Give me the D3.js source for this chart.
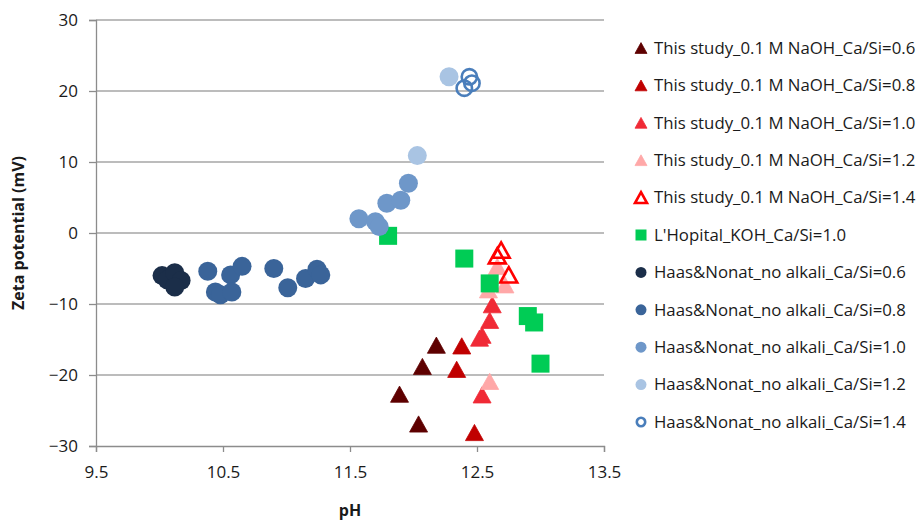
<!DOCTYPE html>
<html>
<head>
<meta charset="utf-8">
<script src="https://cdn.jsdelivr.net/npm/d3@7"></script>
<style>
  body { margin: 0; background: #fff; }
  text { font-family: "Open Sans", "DejaVu Sans", sans-serif; fill: #1a1a1a; }
</style>
</head>
<body>
<div id="chart"></div>
<script>
// pH / zeta potential (mV)
const thisStudy06 = [[12.18, -15.8], [12.07, -18.8], [11.89, -22.7], [12.04, -26.9]];
const thisStudy08 = [[12.38, -15.9], [12.34, -19.2], [12.48, -28.1]];
const thisStudy10 = [[12.62, -10.1], [12.60, -12.3], [12.54, -14.4], [12.52, -14.8], [12.54, -22.8]];
const thisStudy12 = [[12.60, -20.9], [12.66, -4.7], [12.72, -7.3], [12.59, -8.0]];
const thisStudy14 = [[12.69, -2.4], [12.66, -3.2], [12.75, -5.9]];
const lhopital10 = [[11.80, -0.4], [12.40, -3.6], [12.60, -7.1], [12.90, -11.7], [12.95, -12.6], [13.00, -18.4]];
const haas06 = [[10.02, -6.0], [10.06, -6.6], [10.12, -5.6], [10.17, -6.7], [10.12, -7.6]];
const haas08 = [[10.38, -5.4], [10.44, -8.3], [10.48, -8.7], [10.56, -5.9], [10.57, -8.3], [10.65, -4.7],
                [10.90, -5.0], [11.01, -7.7], [11.15, -6.4], [11.24, -5.1], [11.27, -5.9]];
const haas10 = [[11.57, 2.0], [11.70, 1.6], [11.73, 0.9], [11.79, 4.2], [11.90, 4.6], [11.96, 7.0]];
const haas12 = [[12.03, 10.9], [12.28, 22.0]];
const haas14 = [[12.44, 22.0], [12.46, 21.1], [12.40, 20.4]];

const xTicks = [9.5, 10.5, 11.5, 12.5, 13.5];
const yTicks = [-30, -20, -10, 0, 10, 20, 30];

const series = [
  { name: "This study_0.1 M NaOH_Ca/Si=0.6", data: thisStudy06, shape: "tri", color: "#5e0000" },
  { name: "This study_0.1 M NaOH_Ca/Si=0.8", data: thisStudy08, shape: "tri", color: "#c00000" },
  { name: "This study_0.1 M NaOH_Ca/Si=1.0", data: thisStudy10, shape: "tri", color: "#f02a36" },
  { name: "This study_0.1 M NaOH_Ca/Si=1.2", data: thisStudy12, shape: "tri", color: "#ffa8a8" },
  { name: "This study_0.1 M NaOH_Ca/Si=1.4", data: thisStudy14, shape: "triOpen", color: "#ff0000" },
  { name: "L'Hopital_KOH_Ca/Si=1.0", data: lhopital10, shape: "sq", color: "#00cc55" },
  { name: "Haas&Nonat_no alkali_Ca/Si=0.6", data: haas06, shape: "circ", color: "#1b2e49" },
  { name: "Haas&Nonat_no alkali_Ca/Si=0.8", data: haas08, shape: "circ", color: "#3a6499" },
  { name: "Haas&Nonat_no alkali_Ca/Si=1.0", data: haas10, shape: "circ", color: "#6e97c9" },
  { name: "Haas&Nonat_no alkali_Ca/Si=1.2", data: haas12, shape: "circ", color: "#a9c4e3" },
  { name: "Haas&Nonat_no alkali_Ca/Si=1.4", data: haas14, shape: "circOpen", color: "#4a7ebb" }
];

const width = 922, height = 521;
const svg = d3.select("#chart").append("svg")
  .attr("width", width)
  .attr("height", height);

const x = d3.scaleLinear().domain([9.5, 13.5]).range([96, 604]);
const y = d3.scaleLinear().domain([-30, 30]).range([446, 20]);

// Gridlines
svg.append("g")
  .selectAll("line")
  .data(yTicks.filter(d => d > -30))
  .join("line")
  .attr("x1", x(9.5))
  .attr("x2", x(13.5))
  .attr("y1", d => y(d))
  .attr("y2", d => y(d))
  .attr("stroke", "#a6a6a6")
  .attr("stroke-width", 1.3);

// Y axis
const yAxis = svg.append("g")
  .attr("transform", `translate(${x(9.5)},0)`)
  .call(d3.axisLeft(y).tickValues(yTicks).tickSize(7).tickPadding(11));

// X axis
const xAxis = svg.append("g")
  .attr("transform", `translate(0,${y(-30)})`)
  .call(d3.axisBottom(x).tickValues(xTicks).tickFormat(d3.format(".1f")).tickSize(6).tickPadding(14));

[yAxis, xAxis].forEach(g => {
  g.select(".domain").attr("stroke", "#8c8c8c").attr("stroke-width", 1.3);
  g.selectAll(".tick line").attr("stroke", "#8c8c8c").attr("stroke-width", 1.3);
  g.selectAll(".tick text")
    .style("font-family", "'Open Sans', sans-serif")
    .style("font-size", "17px")
    .attr("fill", "#1a1a1a");
});

// Axis titles
svg.append("text")
  .attr("transform", `translate(24,233) rotate(-90)`)
  .style("text-anchor", "middle")
  .style("font-weight", "bold")
  .style("font-size", "16px")
  .text("Zeta potential (mV)");

svg.append("text")
  .attr("x", 350)
  .attr("y", 516)
  .style("text-anchor", "middle")
  .style("font-weight", "bold")
  .style("font-size", "16px")
  .text("pH");

// Marker drawing
function drawMarker(sel, shape, color, s) {
  if (shape === "tri" || shape === "triOpen") {
    const w = s, h = s * 0.9;
    sel.append("path")
      .attr("d", `M0,${-h / 2}L${w / 2},${h / 2}L${-w / 2},${h / 2}Z`)
      .attr("fill", shape === "tri" ? color : "none")
      .attr("stroke", color)
      .attr("stroke-width", shape === "tri" ? 0.8 : 2.6)
      .attr("stroke-linejoin", "miter");
  } else if (shape === "sq") {
    sel.append("rect")
      .attr("x", -s / 2).attr("y", -s / 2)
      .attr("width", s).attr("height", s)
      .attr("fill", color);
  } else {
    sel.append("circle")
      .attr("r", shape === "circ" ? s / 2 : s / 2 - 1.3)
      .attr("fill", shape === "circ" ? color : "none")
      .attr("stroke", color)
      .attr("stroke-width", shape === "circ" ? 0 : 2.6);
  }
}

const markerSize = { tri: 18, triOpen: 17, sq: 18, circ: 19, circOpen: 18 };

// Points
series.forEach(s => {
  svg.append("g")
    .selectAll("g")
    .data(s.data)
    .join("g")
    .attr("transform", d => `translate(${x(d[0])},${y(d[1])})`)
    .each(function () { drawMarker(d3.select(this), s.shape, s.color, markerSize[s.shape]); });
});

// Legend
const legend = svg.append("g");
series.forEach((s, i) => {
  const row = legend.append("g").attr("transform", `translate(641,${48 + i * 37.4})`);
  drawMarker(row, s.shape, s.color, s.shape.startsWith("tri") ? 12 : 11);
  row.append("text")
    .attr("x", 13)
    .attr("dy", "0.35em")
    .style("font-size", "16.8px")
    .text(s.name);
});
</script>
</body>
</html>
